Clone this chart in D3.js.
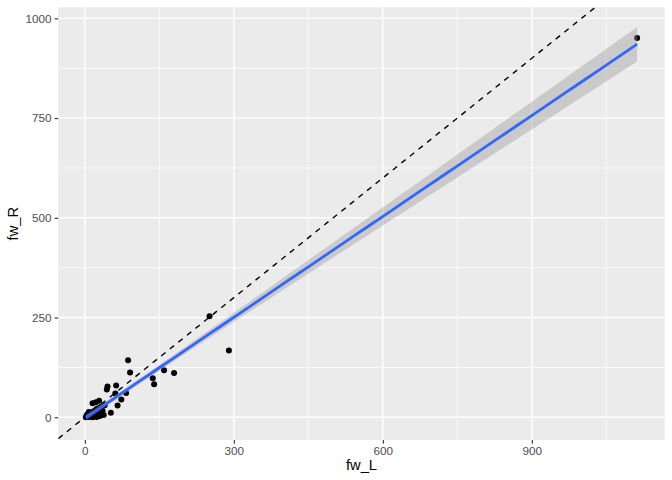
<!DOCTYPE html>
<html>
<head>
<meta charset="utf-8">
<script src="https://cdn.jsdelivr.net/npm/d3@7"></script>
<style>
  body { margin: 0; background: #fff; }
  text { font-family: "Liberation Sans", Arial, sans-serif; }
</style>
</head>
<body>
<svg id="chart"></svg>
<script>
const fwL = [290, 251, 159.5, 179.6, 136.7, 139.4, 87, 91, 1112,
  45.6, 44.2, 63, 61.3, 83, 73.4, 65.8, 52.3, 28.8, 22.1, 15.5, 35.6,
  8, 4, 10, 16, 24, 30, 38, 2, 20, 32,
  3, 5, 6, 7, 9, 11, 12, 13, 14, 17, 18, 19, 21, 23, 25, 26, 27, 29, 33, 40];
const fwR = [167.5, 253, 118, 111, 97.5, 82.5, 143, 112.5, 951,
  77, 69.5, 79.5, 59.5, 61, 44.5, 29.5, 11, 41.5, 37.5, 35, 16.5,
  13, 5.8, 0.8, 0, 0.8, 3, 5.8, 0, 11, 26,
  2, 4, 8, 1, 6, 9, 3, 12, 7, 14, 4, 16, 9, 20, 15, 22, 12, 18, 24, 30];
const xTicks = [0, 300, 600, 900];
const yTicks = [0, 250, 500, 750, 1000];
const xMinor = [150, 450, 750, 1050];
const yMinor = [125, 375, 625, 875];

const width = 672, height = 480;
const margin = {top: 7.3, right: 7.3, bottom: 40, left: 58.3};

const svg = d3.select("#chart").attr("width", width).attr("height", height);

// linear fit with 95% band, like geom_smooth(method = "lm")
const n = fwL.length;
const xbar = d3.mean(fwL), ybar = d3.mean(fwR);
let sxx = 0, sxy = 0;
fwL.forEach((x, i) => { sxx += (x - xbar) ** 2; sxy += (x - xbar) * (fwR[i] - ybar); });
const slope = sxy / sxx, icept = ybar - slope * xbar;
let sse = 0;
fwL.forEach((x, i) => { sse += (fwR[i] - icept - slope * x) ** 2; });
const s = Math.sqrt(sse / (n - 2));
const df = n - 2, z = 1.959964;
const tq = z + (z ** 3 + z) / (4 * df) + (5 * z ** 5 + 16 * z ** 3 + 3 * z) / (96 * df * df);

const [xmin, xmax] = d3.extent(fwL);
const fit = d3.range(80).map(k => {
  const x = xmin + (xmax - xmin) * k / 79;
  const y = icept + slope * x;
  const se = s * Math.sqrt(1 / n + (x - xbar) ** 2 / sxx);
  return {x, y, lo: y - tq * se, hi: y + tq * se};
});

const ylo = Math.min(d3.min(fwR), d3.min(fit, d => d.lo));
const yhi = Math.max(d3.max(fwR), d3.max(fit, d => d.hi));
const ex = (xmax - xmin) * 0.05, ey = (yhi - ylo) * 0.05;

const x = d3.scaleLinear().domain([xmin - ex, xmax + ex]).range([margin.left, width - margin.right]);
const y = d3.scaleLinear().domain([ylo - ey, yhi + ey]).range([height - margin.bottom, margin.top]);

// panel
svg.append("rect")
  .attr("x", margin.left).attr("y", margin.top)
  .attr("width", width - margin.left - margin.right)
  .attr("height", height - margin.top - margin.bottom)
  .attr("fill", "#EBEBEB");

const grid = svg.append("g");
grid.selectAll(".xminor").data(xMinor).join("line")
  .attr("x1", d => x(d)).attr("x2", d => x(d))
  .attr("y1", margin.top).attr("y2", height - margin.bottom)
  .attr("stroke", "#fff").attr("stroke-width", 0.7);
grid.selectAll(".yminor").data(yMinor).join("line")
  .attr("y1", d => y(d)).attr("y2", d => y(d))
  .attr("x1", margin.left).attr("x2", width - margin.right)
  .attr("stroke", "#fff").attr("stroke-width", 0.7);
grid.selectAll(".xmajor").data(xTicks).join("line")
  .attr("x1", d => x(d)).attr("x2", d => x(d))
  .attr("y1", margin.top).attr("y2", height - margin.bottom)
  .attr("stroke", "#fff").attr("stroke-width", 1.4);
grid.selectAll(".ymajor").data(yTicks).join("line")
  .attr("y1", d => y(d)).attr("y2", d => y(d))
  .attr("x1", margin.left).attr("x2", width - margin.right)
  .attr("stroke", "#fff").attr("stroke-width", 1.4);

svg.append("clipPath").attr("id", "clip").append("rect")
  .attr("x", margin.left).attr("y", margin.top)
  .attr("width", width - margin.left - margin.right)
  .attr("height", height - margin.top - margin.bottom);

const plot = svg.append("g").attr("clip-path", "url(#clip)");

// points
plot.selectAll("circle").data(fwL).join("circle")
  .attr("cx", d => x(d)).attr("cy", (d, i) => y(fwR[i]))
  .attr("r", 3).attr("fill", "#000");

// y = x reference
const d0 = x.domain()[0], d1 = y.domain()[1];
plot.append("line")
  .attr("x1", x(d0)).attr("y1", y(d0))
  .attr("x2", x(d1)).attr("y2", y(d1))
  .attr("stroke", "#000").attr("stroke-width", 1.4)
  .attr("stroke-dasharray", "5.5,5.5");

// ribbon + fit
plot.append("path").datum(fit)
  .attr("d", d3.area().x(d => x(d.x)).y0(d => y(d.lo)).y1(d => y(d.hi)))
  .attr("fill", "#999999").attr("fill-opacity", 0.4);
plot.append("path").datum(fit)
  .attr("d", d3.line().x(d => x(d.x)).y(d => y(d.y)))
  .attr("fill", "none").attr("stroke", "#3366FF").attr("stroke-width", 2.8);

// axes
const xAxis = svg.append("g")
  .attr("transform", `translate(0,${height - margin.bottom})`)
  .call(d3.axisBottom(x).tickValues(xTicks).tickFormat(d3.format("d")).tickSize(3.7).tickPadding(3));
const yAxis = svg.append("g")
  .attr("transform", `translate(${margin.left},0)`)
  .call(d3.axisLeft(y).tickValues(yTicks).tickFormat(d3.format("d")).tickSize(3.7).tickPadding(3));
[xAxis, yAxis].forEach(g => {
  g.select(".domain").remove();
  g.selectAll(".tick line").attr("stroke", "#333333").attr("stroke-width", 1.1);
  g.selectAll(".tick text").attr("fill", "#4D4D4D").attr("font-size", 11.7)
    .attr("font-family", "Liberation Sans, Arial, sans-serif");
});

svg.append("text")
  .attr("x", (margin.left + width - margin.right) / 2).attr("y", 470)
  .attr("text-anchor", "middle").attr("font-size", 14.7).attr("fill", "#000")
  .text("fw_L");
svg.append("text")
  .attr("transform", `translate(18,${(margin.top + height - margin.bottom) / 2}) rotate(-90)`)
  .attr("text-anchor", "middle").attr("font-size", 14.7).attr("fill", "#000")
  .text("fw_R");
</script>
</body>
</html>
